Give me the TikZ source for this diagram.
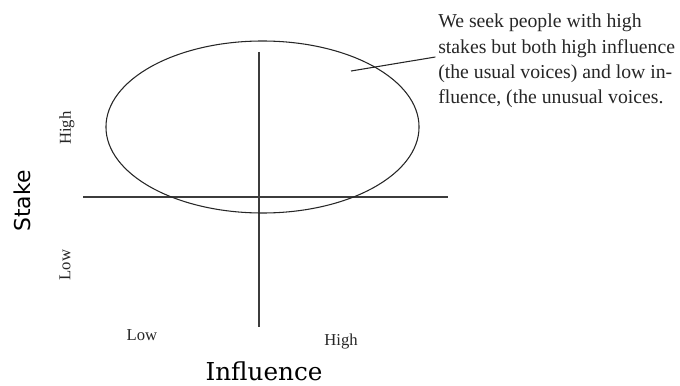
\documentclass[tikz,border=0pt]{standalone}
\usepackage{fontspec}
\setmainfont{Liberation Serif}
\newfontfamily\stakefont{DejaVu Sans}
\newfontfamily\inflfont{DejaVu Serif}
\usetikzlibrary{positioning}
\colorlet{myink}{black!85}
\tikzset{
  axis line/.style={draw=myink!90, line width=0.9pt},
  ring line/.style={draw=myink, line width=0.8pt},
  lead line/.style={draw=myink, line width=0.8pt},
  tick label/.style={font=\fontsize{12.5}{14}\selectfont, text=myink, inner sep=0pt},
  axis title/.style={text=black, inner sep=0pt},
  note/.style={font=\fontsize{14.8}{18.9}\selectfont, text=myink, align=left, inner sep=0pt}
}

\begin{document}
\begin{tikzpicture}[x=0.75pt, y=-0.75pt]
  \useasboundingbox (0,0) rectangle (680,385);

  % =========================================================
  % QUADRANT AXES
  % =========================================================
  \coordinate (V-top) at (259,52);
  \coordinate (V-bot) at (259,327);
  \coordinate (H-left) at (83,197);
  \coordinate (H-right) at (448,197);
  \draw[axis line] (V-top) -- (V-bot);
  \draw[axis line] (H-left) -- (H-right);

  % =========================================================
  % TARGET ELLIPSE (high stakes)
  % =========================================================
  \coordinate (Ring) at (262.5,127);
  \draw[ring line] (Ring) ellipse [x radius=117.4pt, y radius=64.5pt];

  % =========================================================
  % NOTE AND LEADER
  % =========================================================
  \node[note, anchor=west] (Note) at (438,61) {We seek people with high\\stakes but both high influence\\(the usual voices) and low in-\\fluence, (the unusual voices.};
  \coordinate (Pick) at (351,71);
  \draw[lead line] (Pick) -- ([xshift=-2pt, yshift=3pt]Note.west);

  % =========================================================
  % AXIS LABELS
  % =========================================================
  \node[tick label, rotate=90] (StakeHigh) at (67,128) {High};
  \node[tick label, rotate=90] (StakeLow) at (65,265) {Low};
  \node[tick label] (InflLow) at (142,335) {Low};
  \node[tick label] (InflHigh) at (341,342) {High};

  \node[axis title, rotate=90, font=\stakefont\fontsize{16.4}{18}\selectfont] (Stake) at (22,201) {Stake};
  \node[axis title, font=\inflfont\fontsize{18.5}{20}\selectfont] (Influence) at (264,371) {Influence};

\end{tikzpicture}
\end{document}
